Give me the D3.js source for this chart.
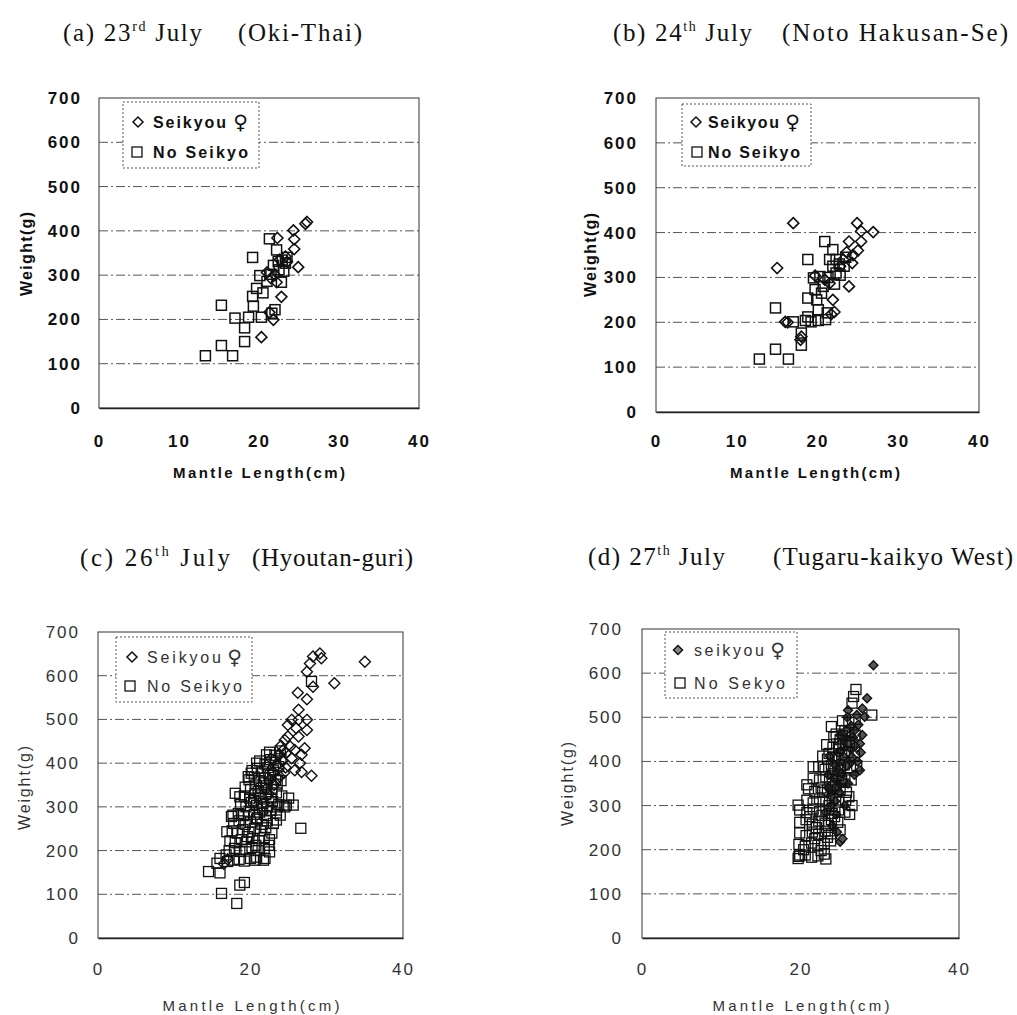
<!DOCTYPE html>
<html>
<head>
<meta charset="utf-8">
<script src="https://cdn.jsdelivr.net/npm/d3@7"></script>
<style>
  body { margin: 0; background: #fff; }
  svg { display: block; }
</style>
</head>
<body>
<svg width="1017" height="1015"></svg>
<script>
// 1. Data (Mantle Length cm, Weight g)
const xTicksFine = [0, 10, 20, 30, 40];
const xTicksCoarse = [0, 20, 40];
const yTicks = [0, 100, 200, 300, 400, 500, 600, 700];
const gridValues = [100, 200, 300, 400, 500, 600];

const titleA = ["(a) 23", "rd", " July", "(Oki-Thai)"];
const titleB = ["(b) 24", "th", " July", "(Noto Hakusan-Se)"];
const titleC = ["(c)  26", "th", " July", "(Hyoutan-guri)"];
const titleD = ["(d) 27", "th", " July", "(Tugaru-kaikyo West)"];

// legend labels: [first series, female sign, second series]
const legendAB = ["Seikyou", "\u2640", "No Seikyo"];
const legendC = ["Seikyou", "\u2640", "No Seikyo"];
const legendD = ["seikyou", "\u2640", "No Sekyo"];

const aSeikyou = [[26,420],[25.8,416],[24.3,401],[24.4,381],[24.4,359],[24.9,318],[22.3,384],[22.8,251],
  [21.8,199],[20.3,160],[21.3,216],[22.2,284],[21,306],[21.5,293],[22.6,335],[23.3,342],[23.5,330],[22,300]];
const aNoSeikyo = [[13.3,118],[15.3,141],[16.7,118],[15.3,232],[17,203],[18.2,150],[18.2,181],[18.7,205],
  [19.3,230],[19.2,252],[19.2,340],[20.3,205],[20.5,260],[20.1,299],[21.3,382],[22.2,357],[21,286],
  [21.6,214],[22,222],[22.4,331],[22.9,334],[23.3,327],[23.1,309],[22.8,284],[22.5,312],[21.8,322],
  [21.5,302],[23.5,340],[19.7,270]];

const bSeikyou = [[17,421],[15,321],[16,201],[17.9,161],[18,168],[19.7,304],[24.9,421],[25.4,403],[26.9,401],
  [23.9,380],[25.4,380],[25,360],[24.3,332],[23.9,280],[21.9,250],[22.1,223],[21.7,218],[23.6,356],
  [23.2,340],[22.8,325],[20.9,295],[21.5,287],[24.4,350],[16.3,200]];
const bNoSeikyo = [[12.8,118],[14.8,140],[16.4,118],[14.8,232],[17,201],[18,149],[18,176],[18.5,204],
  [18.8,212],[19.2,201],[18.8,340],[18.8,254],[19.9,250],[20.1,228],[20.1,204],[19.7,273],[19.5,299],
  [20.9,380],[21.9,362],[21.2,221],[21,206],[21.5,340],[21.9,325],[22.3,340],[22.7,330],[23.3,325],
  [22.3,310],[22.1,285],[20.7,280],[20.5,265],[21.3,300],[20.3,302],[22.8,305],[23.5,345]];

const cSeikyou = [[29.1,651],[29.3,640],[28.2,644],[27.8,628],[27.4,609],[35,632],[31,583],[28.2,575],
  [26.2,561],[27.4,546],[26.3,522],[25.4,499],[27.4,499],[26.3,499],[24.9,487],[26,480],[27.4,476],
  [24.9,461],[26.3,461],[27.1,434],[26.7,419],[26.5,400],[25.8,384],[28,371],[24.5,453],[25.2,438],
  [24.7,423],[25.4,411],[25.8,430],[24.3,430],[26.7,380],[23.8,420],[24.2,405],[23.5,395],[24.6,390],
  [23,380],[23.8,370],[22.5,360],[16.5,170],[17,180],[22.7,410],[24,440],
  [23.1,350],[22.4,330],[21.8,310],[23.6,365],[24.4,378],[22,340]];
const cNoSeikyo = [[14.5,152],[16,149],[16.2,102],[18.2,79],[18.6,121],[19.2,127],[26.6,251],[25.6,304],
  [24.5,300],[21.9,182],[20.6,178],[18,331],[18.6,323],[17.5,278],[16.9,243],[19.7,369],[20.8,400],
  [22.1,419],[20.1,377],[17.7,281],[16,182],[15.6,171],[24.7,304],[23.9,281],[23.4,270],[21.7,178],
  [22.5,197],[28,587],[24,360],[23.5,300],[25,320],
  [17,175],[17.8,178],[18.5,180],[19.2,176],[20,182],[20.8,185],[16.8,190],
  [17.2,200],[17.9,205],[18.6,198],[19.4,203],[20.2,207],[21,200],[21.8,205],[22.4,212],
  [17.3,222],[18,218],[18.8,225],[19.5,220],[20.3,228],[21.1,223],[21.8,230],[22.5,225],
  [17.6,245],[18.3,240],[19,248],[19.8,242],[20.5,250],[21.3,245],[22,252],[22.8,240],
  [17.8,262],[18.5,268],[19.3,260],[20,265],[20.8,272],[21.5,260],[22.2,268],[23,262],
  [18.4,285],[19.1,280],[19.8,290],[20.5,283],[21.2,288],[22,280],[22.7,292],[23.4,286],
  [18.7,305],[19.4,300],[20.1,310],[20.8,303],[21.5,308],[22.2,300],[22.9,312],[23.7,305],
  [19.2,325],[19.9,320],[20.6,330],[21.3,322],[22,328],[22.7,320],[23.4,332],[24.1,325],
  [19.3,345],[20,340],[20.7,350],[21.4,342],[22.1,348],[22.8,340],[23.5,352],
  [19.8,362],[20.5,368],[21.2,360],[21.9,366],[22.6,372],[23.3,362],
  [20.2,383],[20.9,388],[21.6,380],[22.3,390],[23,384],[23.7,392],
  [21.2,405],[21.9,398],[22.6,408],[23.3,402],[24,410],
  [22.5,425],[23.2,418],[23.9,428],
  [20.4,315],[21,335],[21.7,355],[22.4,375],[20.9,275],[21.6,295],[19.6,232],[20.7,212]];

const dSeikyou = [[29.2,618],[28.4,543],[28.1,501],[26,516],[25.8,471],[27.3,483],[27.8,460],[27.5,440],
  [27.6,420],[27.2,400],[27.5,380],[26.8,370],[26.3,430],[25.6,445],[25,400],[24.8,380],[24.3,360],
  [24,330],[23.8,300],[24.5,280],[25,218],[25.3,225],[23.5,340],[26,350],[24.7,420],[26.6,455],[27.8,520],
  [25.5,410],[26.2,395],[24.4,310],[25.2,372],[26.9,435],
  [23.9,320],[24.6,345],[25.4,355],[25.8,390],[26.5,410],[26,440],[25,460],[24.2,395],[23.5,370],
  [24.9,330],[25.6,300],[23.2,285],[24,255],[24.6,240],[26.8,470],[27.1,505],[26.4,480],[25.9,500],
  [25.1,425],[23.7,412]];
const dNoSeikyo = [[27,563],[26.7,547],[26.5,532],[29,505],[23.9,479],[19.9,188],[23.2,179],[26.2,280],
  [26.1,320],[26.5,300],[19.7,301],[20.8,347],[21.6,388],[25,245],[19.7,180],[25,449],[22.9,388],
  [19.8,185],[20.6,188],[21.4,183],[22.2,186],[23,190],
  [19.8,212],[20.6,208],[21.4,215],[22.2,210],[23,214],[23.8,220],
  [19.9,238],[20.7,232],[21.5,240],[22.3,235],[23.1,242],[23.9,236],
  [19.9,262],[20.7,268],[21.5,258],[22.3,265],[23.1,260],[23.9,268],[24.7,262],
  [19.9,290],[20.8,284],[21.6,292],[22.4,286],[23.2,290],[24,282],[24.8,290],[25.6,285],
  [20.8,312],[21.6,306],[22.4,315],[23.2,310],[24,316],[24.8,308],[25.7,312],
  [21,338],[21.8,332],[22.6,340],[23.4,335],[24.2,342],[25,336],[25.8,330],
  [21.6,362],[22.4,358],[23.2,365],[24,360],[24.8,368],[25.6,362],[26.4,358],
  [22.3,388],[23.1,382],[23.9,390],[24.7,385],[25.5,392],[26.3,386],[27.1,390],
  [22.8,412],[23.6,418],[24.4,410],[25.2,415],[26,420],[26.8,412],
  [23.3,438],[24.1,432],[24.9,440],[25.7,436],[26.5,442],
  [24.5,462],[25.3,458],[26.1,465],[26.9,460],
  [25.3,492],[26.1,488],[26.9,495],
  [24.4,345],[25.2,355],[23.6,300],[22.8,330],[24.1,372],[25,380],[23.4,405],[24.8,430],[25.6,470],
  [24.2,455],[26.2,445],[22,250],[21.2,275],[22.7,278],[23.5,255],[24.3,275],[20.4,200],[21.8,225],
  [22.6,198],[23.4,228]];

// 2. Layout for each panel (pixels)
const svg = d3.select("svg");

const panels = [
  { left: 99, right: 419, top: 98, bottom: 408, xTicks: xTicksFine, seikyou: aSeikyou, noSeikyo: aNoSeikyo,
    title: titleA, t1: [63, 139], t2: [238, 124], tY: 41, legendText: legendAB,
    legendBox: [123, 102, 259, 168], legendMark: [138, 137], legendTextX: [153, 73, 248], legendRowY: [122, 152],
    xLabel: [259, 478, 172], yLabel: [32, 254], yPad: 17, xPad: 27, heavy: true, filled: false },
  { left: 656, right: 979, top: 98, bottom: 412, xTicks: xTicksFine, seikyou: bSeikyou, noSeikyo: bNoSeikyo,
    title: titleB, t1: [613, 139], t2: [782, 226], tY: 41, legendText: legendAB,
    legendBox: [682, 104, 811, 166], legendMark: [696, 697], legendTextX: [708, 71, 800], legendRowY: [122, 152],
    xLabel: [815, 478, 170], yLabel: [596, 255], yPad: 18, xPad: 23, heavy: true, filled: false },
  { left: 98, right: 403, top: 632, bottom: 938, xTicks: xTicksCoarse, seikyou: cSeikyou, noSeikyo: cNoSeikyo,
    title: titleC, t1: [80, 150], t2: [252, 161], tY: 566, legendText: legendC,
    legendBox: [116, 637, 252, 702], legendMark: [132, 130], legendTextX: [147, 74, 242], legendRowY: [657, 686],
    xLabel: [251, 1011, 177], yLabel: [30, 788], yPad: 18, xPad: 25, heavy: false, filled: false },
  { left: 642, right: 959, top: 629, bottom: 938, xTicks: xTicksCoarse, seikyou: dSeikyou, noSeikyo: dNoSeikyo,
    title: titleD, t1: [588, 137], t2: [773, 240], tY: 565, legendText: legendD,
    legendBox: [665, 632, 797, 698], legendMark: [678, 680], legendTextX: [694, 70, 785], legendRowY: [650, 683],
    xLabel: [801, 1011, 177], yLabel: [573, 784], yPad: 19, xPad: 25, heavy: false, filled: true }
];

// 3. Helpers
const squareSize = 10;
const serif = "'Liberation Serif', 'Times New Roman', serif";
const sans = "'Liberation Sans', Arial, sans-serif";

function diamondPath(cx, cy, r) {
  return `M${cx},${cy - r}L${cx + r},${cy}L${cx},${cy + r}L${cx - r},${cy}Z`;
}

function drawTitle(p) {
  const t = svg.append("text")
    .attr("x", p.t1[0]).attr("y", p.tY)
    .attr("font-family", serif).attr("font-size", 25).attr("fill", "#111")
    .attr("textLength", p.t1[1]).attr("lengthAdjust", "spacing");
  t.append("tspan").text(p.title[0]);
  t.append("tspan").attr("font-size", 14).attr("dy", -10).text(p.title[1]);
  t.append("tspan").attr("dy", 10).text(p.title[2]);

  svg.append("text")
    .attr("x", p.t2[0]).attr("y", p.tY)
    .attr("font-family", serif).attr("font-size", 25).attr("fill", "#111")
    .attr("textLength", p.t2[1]).attr("lengthAdjust", "spacing")
    .text(p.title[3]);
}

// 4. Draw one panel
function drawPanel(p) {
  const x = d3.scaleLinear().domain([0, 40]).range([p.left, p.right]);
  const y = d3.scaleLinear().domain([0, 700]).range([p.bottom, p.top]);
  const ink = p.heavy ? "#111" : "#333";
  const weight = p.heavy ? "bold" : "normal";
  const g = svg.append("g");

  drawTitle(p);

  // gridlines
  g.selectAll(".grid").data(gridValues).enter().append("line")
    .attr("x1", p.left).attr("x2", p.right)
    .attr("y1", d => y(d)).attr("y2", d => y(d))
    .attr("stroke", "#555").attr("stroke-width", 1)
    .attr("stroke-dasharray", "9,3,2,3");

  // plot frame
  g.append("rect")
    .attr("x", p.left).attr("y", p.top)
    .attr("width", p.right - p.left).attr("height", p.bottom - p.top)
    .attr("fill", "none").attr("stroke", "#333").attr("stroke-width", 1);

  // axes
  const yAxis = g.append("g")
    .attr("transform", `translate(${p.left},0)`)
    .call(d3.axisLeft(y).tickValues(yTicks).tickSize(0).tickPadding(p.yPad));
  const xAxis = g.append("g")
    .attr("transform", `translate(0,${p.bottom})`)
    .call(d3.axisBottom(x).tickValues(p.xTicks).tickSize(0).tickPadding(p.xPad));
  [yAxis, xAxis].forEach(ax => {
    ax.select(".domain").attr("stroke", "#222").attr("stroke-width", 1.4);
    ax.selectAll("text")
      .attr("font-family", sans).attr("font-size", 17).attr("font-weight", weight)
      .attr("fill", ink).attr("letter-spacing", 2);
  });
  yAxis.select(".domain").remove();

  // axis titles
  g.append("text")
    .attr("x", p.xLabel[0]).attr("y", p.xLabel[1])
    .attr("text-anchor", "middle")
    .attr("font-family", sans).attr("font-size", 15).attr("font-weight", weight).attr("fill", ink)
    .attr("textLength", p.xLabel[2]).attr("lengthAdjust", "spacing")
    .text("Mantle Length(cm)");
  g.append("text")
    .attr("transform", `translate(${p.yLabel[0]},${p.yLabel[1]}) rotate(-90)`)
    .attr("text-anchor", "middle")
    .attr("font-family", sans).attr("font-size", 16).attr("font-weight", weight).attr("fill", ink)
    .attr("textLength", 84).attr("lengthAdjust", "spacing")
    .text("Weight(g)");

  // series 1: Seikyou (diamonds)
  const dr = p.filled ? 4.5 : 5.5;
  g.selectAll(".seikyou").data(p.seikyou).enter().append("path")
    .attr("d", d => diamondPath(x(d[0]), y(d[1]), dr))
    .attr("fill", p.filled ? "#555" : "none")
    .attr("stroke", "#111").attr("stroke-width", p.heavy ? 1.6 : 1.4);

  // series 2: No Seikyo (squares)
  g.selectAll(".noseikyo").data(p.noSeikyo).enter().append("rect")
    .attr("x", d => x(d[0]) - squareSize / 2)
    .attr("y", d => y(d[1]) - squareSize / 2)
    .attr("width", squareSize).attr("height", squareSize)
    .attr("fill", "none")
    .attr("stroke", "#111").attr("stroke-width", p.heavy ? 1.5 : 1.3);

  // legend
  const lb = p.legendBox;
  g.append("rect")
    .attr("x", lb[0]).attr("y", lb[1])
    .attr("width", lb[2] - lb[0]).attr("height", lb[3] - lb[1])
    .attr("fill", "#fff").attr("stroke", "#555").attr("stroke-width", 1)
    .attr("stroke-dasharray", "2,2");
  g.append("path")
    .attr("d", diamondPath(p.legendMark[0], p.legendRowY[0], p.filled ? 4.5 : 5))
    .attr("fill", p.filled ? "#888" : "none")
    .attr("stroke", "#111").attr("stroke-width", 1.5);
  g.append("rect")
    .attr("x", p.legendMark[1] - 5).attr("y", p.legendRowY[1] - 5)
    .attr("width", 10).attr("height", 10)
    .attr("fill", "none").attr("stroke", "#111").attr("stroke-width", 1.3);

  const legendWeight = p.heavy ? "bold" : "normal";
  g.append("text")
    .attr("x", p.legendTextX[0]).attr("y", p.legendRowY[0] + 6)
    .attr("font-family", sans).attr("font-size", 16).attr("font-weight", legendWeight).attr("fill", ink)
    .attr("textLength", p.legendTextX[1]).attr("lengthAdjust", "spacing")
    .text(p.legendText[0]);
  g.append("text")
    .attr("x", p.legendTextX[2]).attr("y", p.legendRowY[0] + 7)
    .attr("text-anchor", "end")
    .attr("font-family", "'DejaVu Sans', sans-serif").attr("font-size", 20).attr("fill", ink)
    .text(p.legendText[1]);
  g.append("text")
    .attr("x", p.legendTextX[0]).attr("y", p.legendRowY[1] + 6)
    .attr("font-family", sans).attr("font-size", 16).attr("font-weight", legendWeight).attr("fill", ink)
    .attr("textLength", p.legendTextX[2] - p.legendTextX[0]).attr("lengthAdjust", "spacing")
    .text(p.legendText[2]);
}

// 5. Render
panels.forEach(drawPanel);
</script>
</body>
</html>
